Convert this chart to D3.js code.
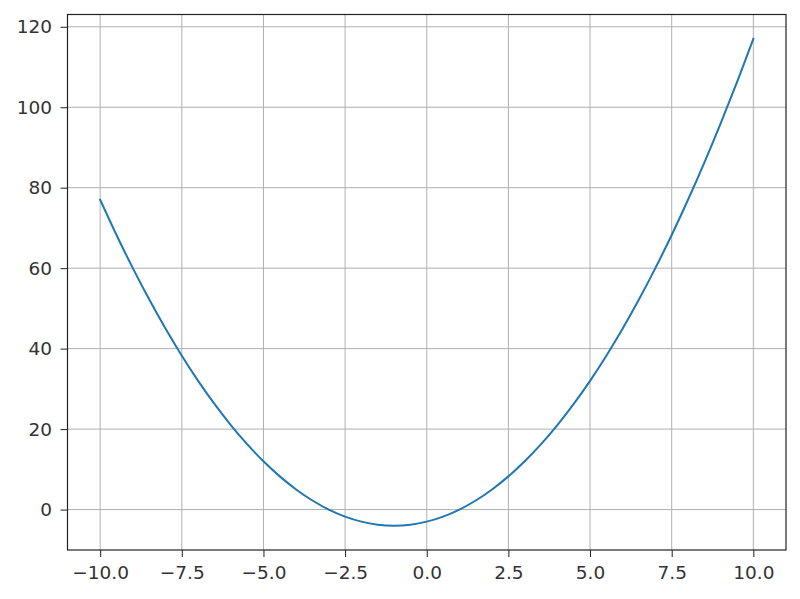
<!DOCTYPE html>
<html><head><meta charset="utf-8">
<script src="https://cdn.jsdelivr.net/npm/d3@7"></script>
<style>body{margin:0;background:#fff}svg{display:block}text{font-family:"DejaVu Sans",sans-serif}</style>
</head><body><svg id="c" width="800" height="599"></svg>
<script>
const xValues = [-10,-9.5,-9,-8.5,-8,-7.5,-7,-6.5,-6,-5.5,-5,-4.5,-4,-3.5,-3,-2.5,-2,-1.5,-1,-0.5,0,0.5,1,1.5,2,2.5,3,3.5,4,4.5,5,5.5,6,6.5,7,7.5,8,8.5,9,9.5,10];
const yValues = [77,68.25,60,52.25,45,38.25,32,26.25,21,16.25,12,8.25,5,2.25,0,-1.75,-3,-3.75,-4,-3.75,-3,-1.75,0,2.25,5,8.25,12,16.25,21,26.25,32,38.25,45,52.25,60,68.25,77,86.25,96,106.25,117];
const xTicks = [-10,-7.5,-5,-2.5,0,2.5,5,7.5,10];
const yTicks = [0,20,40,60,80,100,120];

const svg = d3.select("#c");
const L=67.5,R=786,T=14.5,B=550;
const x = d3.scaleLinear().domain([-11,11]).range([L,R]);
const y = d3.scaleLinear().domain([-10.05,123.05]).range([B,T]);
const fmtX = d => d3.format(".1f")(d).replace("-","\u2212");

// grid
svg.append("g").selectAll("line").data(xTicks).join("line")
  .attr("x1",d=>x(d)).attr("x2",d=>x(d)).attr("y1",T).attr("y2",B)
  .attr("stroke","#b0b0b0").attr("stroke-width",1);
svg.append("g").selectAll("line").data(yTicks).join("line")
  .attr("y1",d=>y(d)).attr("y2",d=>y(d)).attr("x1",L).attr("x2",R)
  .attr("stroke","#b0b0b0").attr("stroke-width",1);

// line
const pts = xValues.map((v,i)=>[v,yValues[i]]);
svg.append("path").datum(pts)
  .attr("d",d3.line().x(d=>x(d[0])).y(d=>y(d[1])).curve(d3.curveCatmullRom))
  .attr("fill","none").attr("stroke","#1f77b4").attr("stroke-width",2).attr("stroke-linecap","square");

// axes
const xa = svg.append("g").attr("transform",`translate(0,${B})`)
  .call(d3.axisBottom(x).tickValues(xTicks).tickFormat(fmtX).tickSizeInner(7).tickSizeOuter(0).tickPadding(9));
const ya = svg.append("g").attr("transform",`translate(${L},0)`)
  .call(d3.axisLeft(y).tickValues(yTicks).tickSizeInner(7).tickSizeOuter(0).tickPadding(8.5));
[xa,ya].forEach(g=>{
  g.select(".domain").remove();
  g.selectAll("line").attr("stroke","#222").attr("stroke-width",1);
  g.selectAll("text").attr("font-family","DejaVu Sans").attr("font-size",18.5).attr("fill","#333");
});
svg.append("rect").attr("x",L).attr("y",T).attr("width",R-L).attr("height",B-T)
  .attr("fill","none").attr("stroke","#222").attr("stroke-width",1.2);
</script></body></html>
